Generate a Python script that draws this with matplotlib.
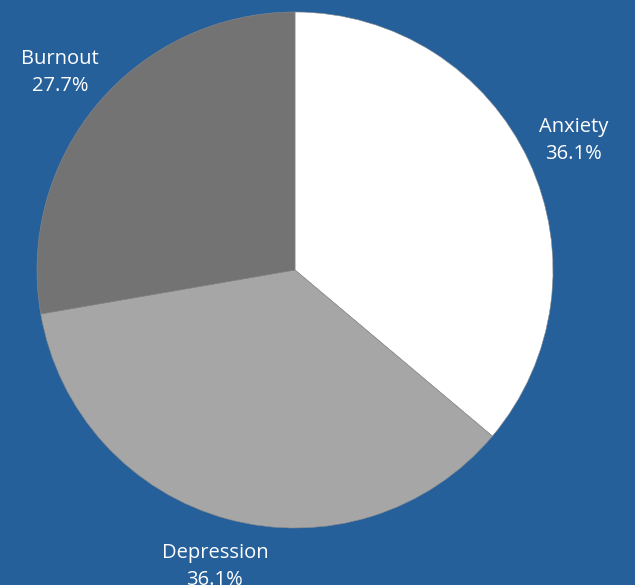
import numpy as np
import matplotlib.pyplot as plt

# data
categories = ["Anxiety", "Depression", "Burnout"]
shares = [36.1, 36.1, 27.7]
colors = ["#ffffff", "#a6a6a6", "#737373"]

bg = "#26609b"

fig = plt.figure(figsize=(6.35, 5.85), dpi=100, facecolor=bg)
ax = fig.add_axes([0, 0, 1, 1])
ax.set_facecolor(bg)

labels = [f"{c}\n{v}%" for c, v in zip(categories, shares)]
wedges, texts = ax.pie(shares, colors=colors, labels=labels, startangle=90,
                       counterclock=False, labeldistance=1.19,
                       wedgeprops=dict(linewidth=0.4, edgecolor="#8a8a8a"),
                       textprops=dict(color="white", fontsize=14.5,
                                      family=["Open Sans", "DejaVu Sans"],
                                      linespacing=1.45))
for t in texts:
    t.set_ha("center")
    t.set_va("center")

# pie radius ~258 px, centre at (295, 270) px from top-left
r = 258
ax.set_xlim(-295 / r, 340 / r)
ax.set_ylim(-315 / r, 270 / r)
ax.set_aspect("equal")
ax.axis("off")

plt.savefig("out.png", dpi=100, facecolor=bg)
